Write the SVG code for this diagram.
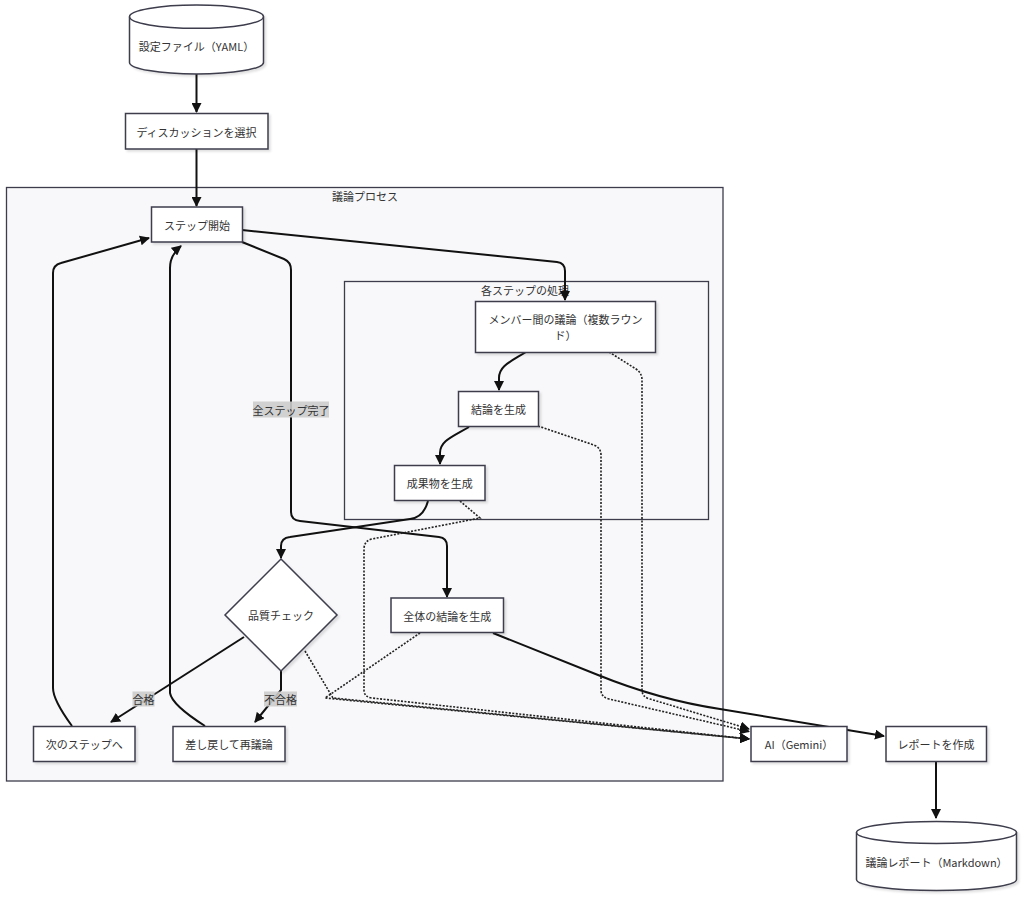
<svg xmlns="http://www.w3.org/2000/svg" width="1024" height="898" viewBox="0 0 1024 898">
<defs>
<style>
.bg{fill:#ffffff}
.cluster{fill:#f8f8fa;stroke:#3c3c4c;stroke-width:1.3}
.node{fill:#ffffff;stroke:#3c3c4c;stroke-width:1.5;filter:url(#sh)}
.t{font-family:"Noto Sans CJK JP","Noto Sans",sans-serif;font-size:11px;fill:#333;text-anchor:middle;dominant-baseline:central}
.ct{font-family:"Noto Sans CJK JP","Noto Sans",sans-serif;font-size:11px;fill:#333;text-anchor:middle;dominant-baseline:central}
.e{fill:none;stroke:#111;stroke-width:2}
.d{fill:none;stroke:#222;stroke-width:1.6;stroke-dasharray:2 1.5}
.lb{fill:#cccccc;opacity:0.9}
</style>
<marker id="ah" viewBox="0 0 10 10" refX="9" refY="5" markerWidth="10" markerHeight="10" markerUnits="userSpaceOnUse" orient="auto">
<path d="M0,0 L10,5 L0,10 z" fill="#111"/>
</marker>
<filter id="sh" x="-10%" y="-10%" width="130%" height="140%">
<feDropShadow dx="2" dy="2" stdDeviation="1" flood-color="#000" flood-opacity="0.12"/>
</filter>
</defs>
<rect class="bg" x="0" y="0" width="1024" height="898"/>

<g id="cluster-process">
<rect class="cluster" x="6.5" y="187.5" width="716.5" height="593.5"/>
<text class="ct" x="365" y="195.5">議論プロセス</text>
</g>
<g id="cluster-step">
<rect class="cluster" x="344.5" y="281.5" width="364" height="238"/>
<text class="ct" x="525" y="289.5">各ステップの処理</text>
</g>

<g id="edges">
<path class="e" d="M196.5 74 L196.5 112" marker-end="url(#ah)"/>
<path class="e" d="M196.5 149 L196.5 206" marker-end="url(#ah)"/>
<path class="e" d="M242 230 L557 262 Q565 263 565 271 L565 300" marker-end="url(#ah)"/>
<path class="e" d="M242 242 L284 259 Q291 262 291 270 L291 512 Q291 520 300 521 L439 537 Q447 538 447 546 L447 597" marker-end="url(#ah)"/>
<path class="e" d="M526 352 C510 362 499 366 499 378 L499 390" marker-end="url(#ah)"/>
<path class="e" d="M469 427 C452 437 440 441 440 453 L440 464" marker-end="url(#ah)"/>
<path class="e" d="M428 501 C425 512 420 518 410 519 L290 537 Q281 538 281 546 L281 558" marker-end="url(#ah)"/>
<path class="e" d="M244 637 L111 722" marker-end="url(#ah)"/>
<path class="e" d="M281 671 L281 690 L255 722" marker-end="url(#ah)"/>
<path class="e" d="M72 726 Q53 700 53 688 L53 273 Q53 265 61 263 L149 238" marker-end="url(#ah)"/>
<path class="e" d="M205 726 Q172 705 170 693 L170 268 Q170 255 181 246" marker-end="url(#ah)"/>
<path class="d" d="M609 352 L636 369 Q642 373 642 380 L642 690 Q642 697 650 699 L749 729" marker-end="url(#ah)"/>
<path class="d" d="M538 426 L594 445 Q601 448 601 455 L601 690 Q601 697 609 699 L749 731.5" marker-end="url(#ah)"/>
<path class="d" d="M460 501 L480 518 L372 539 Q364 541 364 549 L364 690 Q364 697 372 698 L749 739" marker-end="url(#ah)"/>
<path class="d" d="M305 651 L333 698 L749 739" marker-end="url(#ah)"/>
<path class="d" d="M420 633 L325 698 L749 739" marker-end="url(#ah)"/>
<path class="e" d="M493 633 L598 675 C640 692 680 703 720 709 L884 736" marker-end="url(#ah)"/>
<path class="e" d="M936 762 L936 818" marker-end="url(#ah)"/>
<rect class="lb" x="253" y="401.5" width="76" height="16"/>
<text class="t" x="291" y="409.5">全ステップ完了</text>
<rect class="lb" x="132.5" y="691.5" width="22" height="15"/>
<text class="t" x="143.5" y="699">合格</text>
<rect class="lb" x="264" y="691.5" width="33" height="15"/>
<text class="t" x="280.5" y="699">不合格</text>
</g>

<g id="node-config">
<path class="node" d="M129.5 16.7 A67 11.6 0 0 1 263.5 16.7 L263.5 62.4 A67 11.6 0 0 1 129.5 62.4 Z"/>
<path fill="none" stroke="#3c3c4c" stroke-width="1.5" d="M129.5 16.7 A67 11.6 0 0 0 263.5 16.7"/>
<text class="t" x="196.5" y="46">設定ファイル（YAML）</text>
</g>
<g id="node-select">
<rect class="node" x="125.5" y="113.5" width="142.5" height="35.5"/>
<text class="t" x="196.5" y="131.5">ディスカッションを選択</text>
</g>
<g id="node-start">
<rect class="node" x="151.5" y="207" width="91" height="35"/>
<text class="t" x="197" y="224.5">ステップ開始</text>
</g>
<g id="node-members">
<rect class="node" x="475.5" y="301.5" width="180" height="51"/>
<text class="t" x="565.5" y="319">メンバー間の議論（複数ラウン</text>
<text class="t" x="565.5" y="334.5">ド）</text>
</g>
<g id="node-conclusion">
<rect class="node" x="458.5" y="391.5" width="80" height="35"/>
<text class="t" x="498.5" y="409">結論を生成</text>
</g>
<g id="node-artifact">
<rect class="node" x="394.5" y="465.5" width="90.5" height="35"/>
<text class="t" x="439.7" y="483">成果物を生成</text>
</g>
<g id="node-quality">
<path class="node" d="M281 559 L337 615 L281 671 L225 615 Z"/>
<text class="t" x="281" y="615">品質チェック</text>
</g>
<g id="node-overall">
<rect class="node" x="391" y="598" width="112.5" height="34.5"/>
<text class="t" x="447.2" y="615.5">全体の結論を生成</text>
</g>
<g id="node-next">
<rect class="node" x="33.5" y="726.5" width="101.5" height="35"/>
<text class="t" x="84.2" y="744">次のステップへ</text>
</g>
<g id="node-redo">
<rect class="node" x="173" y="726.5" width="112" height="35"/>
<text class="t" x="229" y="744">差し戻して再議論</text>
</g>
<g id="node-ai">
<rect class="node" x="751" y="726.5" width="96" height="35"/>
<text class="t" x="799" y="744">AI（Gemini）</text>
</g>
<g id="node-report">
<rect class="node" x="886" y="726.5" width="100.5" height="35"/>
<text class="t" x="936" y="744">レポートを作成</text>
</g>
<g id="node-output">
<path class="node" d="M856.5 832.5 A80 11 0 0 1 1016.5 832.5 L1016.5 879.5 A80 11 0 0 1 856.5 879.5 Z"/>
<path fill="none" stroke="#3c3c4c" stroke-width="1.5" d="M856.5 832.5 A80 11 0 0 0 1016.5 832.5"/>
<text class="t" x="936.5" y="862">議論レポート（Markdown）</text>
</g>
</svg>
